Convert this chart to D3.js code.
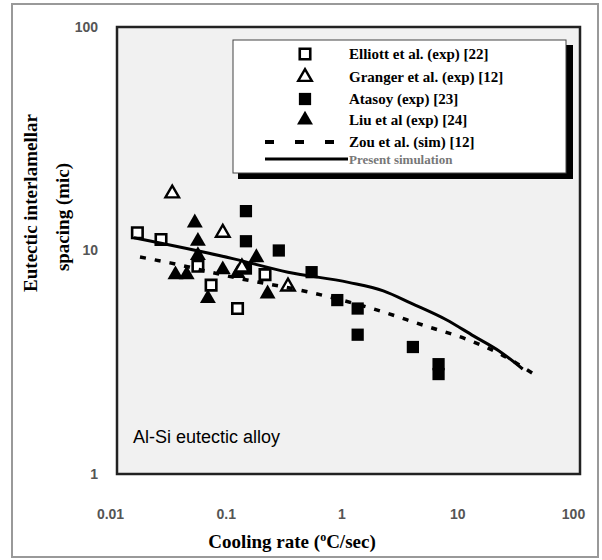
<!DOCTYPE html>
<html>
<head>
<meta charset="utf-8">
<script src="https://cdn.jsdelivr.net/npm/d3@7"></script>
<style>
  body { margin: 0; background: #fff; }
  svg { display: block; }
</style>
</head>
<body>
<svg id="chart" width="602" height="560"></svg>
<script>
// # DATA
// # ------------------------------
var elliott = [[0.015, 12], [0.024, 11.2], [0.05, 8.5], [0.065, 7.0], [0.11, 5.5], [0.19, 7.8]];
var granger = [[0.03, 18], [0.082, 12], [0.3, 6.9], [0.12, 8.4]];
var atasoy  = [[0.13, 15], [0.13, 11], [0.25, 10], [0.13, 8.3], [0.48, 8.0], [0.8, 6.0],
               [1.2, 5.5], [1.2, 4.2], [3.6, 3.7], [6, 3.1], [6, 2.8]];
var liu     = [[0.047, 13.3], [0.05, 11], [0.05, 9.5], [0.032, 7.8], [0.04, 7.8], [0.061, 6.1],
               [0.082, 8.2], [0.11, 7.9], [0.16, 9.3], [0.2, 6.4]];
var zouSim  = [[0.0158, 9.35], [0.0287, 8.8], [0.1, 7.6], [0.465, 6.5], [1.6, 5.5],
               [4.6, 4.6], [10.6, 4.0], [19.2, 3.5], [40, 2.8]];
var present = [[0.014, 11.4], [0.1, 9.2], [0.3, 8.0], [1, 7.2], [2, 6.6], [3.5, 5.8],
               [7, 4.9], [12, 4.15], [20, 3.55], [32, 2.95]];

var xTicks = [0.01, 0.1, 1, 10, 100];
var yTicks = [1, 10, 100];
var legendLabels = ["Elliott et al. (exp) [22]", "Granger et al. (exp) [12]", "Atasoy (exp) [23]",
                    "Liu et al (exp) [24]", "Zou et al. (sim) [12]", "Present simulation"];

// # SETUP
// # ------------------------------
var svg = d3.select("#chart");
var plotLeft = 117, plotRight = 580, plotTop = 27, plotBottom = 474;

var x = d3.scaleLog().domain([0.01, 100]).range([plotLeft, plotRight]);
var y = d3.scaleLog().domain([1, 100]).range([plotBottom, plotTop]);

var serif = "'Liberation Serif', 'Times New Roman', serif";
var sans  = "'Liberation Sans', Arial, sans-serif";

// outer border
svg.append("rect")
  .attr("x", 12).attr("y", 4).attr("width", 586).attr("height", 553)
  .attr("fill", "none").attr("stroke", "#999").attr("stroke-width", 2);

// plot background
svg.append("rect")
  .attr("x", plotLeft).attr("y", plotTop).attr("width", plotRight - plotLeft).attr("height", plotBottom - plotTop)
  .attr("fill", "#f1f1f1");

// ## axes
// # ------------------------------
var xAxis = svg.append("g")
  .attr("transform", "translate(-7," + (plotBottom + 32) + ")")
  .call(d3.axisBottom(x).tickValues(xTicks).tickSize(0).tickFormat(function(d) { return String(d); }));
xAxis.select(".domain").remove();
xAxis.selectAll("text")
  .attr("fill", "#555").style("font-family", sans).style("font-size", "14px").style("font-weight", "bold");

var yAxis = svg.append("g")
  .attr("transform", "translate(" + (plotLeft - 16) + ",0)")
  .call(d3.axisLeft(y).tickValues(yTicks).tickSize(0).tickFormat(function(d) { return String(d); }));
yAxis.select(".domain").remove();
yAxis.selectAll("text")
  .attr("fill", "#555").style("font-family", sans).style("font-size", "14px").style("font-weight", "bold");

// frame
svg.append("rect")
  .attr("x", plotLeft).attr("y", plotTop).attr("width", plotRight - plotLeft).attr("height", plotBottom - plotTop)
  .attr("fill", "none").attr("stroke", "#222").attr("stroke-width", 2.5);

// ## markers
// # ------------------------------
var sq = d3.symbol().type(d3.symbolSquare).size(150);
var sqOpen = d3.symbol().type(d3.symbolSquare).size(110);
var tri = d3.symbol().type(d3.symbolTriangle).size(110);
var triOpen = d3.symbol().type(d3.symbolTriangle).size(80);

var draw_points = function(data, path, fill, stroke, sw) {
  svg.append("g").selectAll("path")
    .data(data).enter().append("path")
    .attr("d", path)
    .attr("transform", function(d) { return "translate(" + x(d[0]) + "," + y(d[1]) + ")"; })
    .attr("fill", fill).attr("stroke", stroke).attr("stroke-width", sw);
};

draw_points(liu, tri, "#000", "none", 0);
draw_points(atasoy, sq, "#000", "none", 0);
draw_points(elliott, sqOpen, "#fff", "#000", 2.6);
draw_points(granger, triOpen, "#fff", "#000", 2.4);

// ## lines
// # ------------------------------
var line = d3.line()
  .x(function(d) { return x(d[0]); })
  .y(function(d) { return y(d[1]); })
  .curve(d3.curveMonotoneX);

svg.append("path").datum(zouSim)
  .attr("d", line).attr("fill", "none").attr("stroke", "#000")
  .attr("stroke-width", 3.5).attr("stroke-dasharray", "6,9");

svg.append("path").datum(present)
  .attr("d", line).attr("fill", "none").attr("stroke", "#000").attr("stroke-width", 3);

// ## legend
// # ------------------------------
var lg = svg.append("g");
lg.append("rect").attr("x", 238).attr("y", 45).attr("width", 335).attr("height", 134).attr("fill", "#000");
lg.append("rect").attr("x", 233).attr("y", 40).attr("width", 333).attr("height", 133)
  .attr("fill", "#fff").attr("stroke", "#444").attr("stroke-width", 1);

var rowY = [54, 77, 99, 120, 142, 159];
var legendMarks = [[sqOpen, "#fff", "#000", 2.6], [triOpen, "#fff", "#000", 2.4],
                   [sq, "#000", "none", 0], [tri, "#000", "none", 0]];

legendMarks.forEach(function(m, i) {
  lg.append("path").attr("d", m[0])
    .attr("transform", "translate(305," + rowY[i] + ")")
    .attr("fill", m[1]).attr("stroke", m[2]).attr("stroke-width", m[3]);
});

lg.append("line").attr("x1", 265).attr("x2", 335).attr("y1", rowY[4]).attr("y2", rowY[4])
  .attr("stroke", "#000").attr("stroke-width", 4).attr("stroke-dasharray", "9,21");
lg.append("line").attr("x1", 265).attr("x2", 348).attr("y1", rowY[5]).attr("y2", rowY[5])
  .attr("stroke", "#000").attr("stroke-width", 3);

lg.selectAll("text.lab").data(legendLabels).enter().append("text")
  .attr("class", "lab")
  .attr("x", 349).attr("y", function(d, i) { return rowY[i] + 5; })
  .attr("fill", function(d, i) { return i == 5 ? "#777" : "#000"; })
  .style("font-family", serif).style("font-weight", "bold")
  .style("font-size", function(d, i) { return i == 5 ? "13px" : "15px"; })
  .text(function(d) { return d; });

// ## annotations and titles
// # ------------------------------
svg.append("text")
  .attr("x", 133).attr("y", 443)
  .style("font-family", sans).style("font-size", "18px").attr("fill", "#000")
  .text("Al-Si eutectic alloy");

var xt = svg.append("text")
  .attr("x", 292).attr("y", 548).attr("text-anchor", "middle")
  .style("font-family", serif).style("font-weight", "bold").style("font-size", "19px");
xt.append("tspan").text("Cooling rate (");
xt.append("tspan").attr("dy", -7).style("font-size", "12px").text("o");
xt.append("tspan").attr("dy", 7).text("C/sec)");

svg.append("text")
  .attr("transform", "translate(37,203) rotate(-90)").attr("text-anchor", "middle")
  .attr("fill", "#000")
  .style("font-family", serif).style("font-weight", "bold").style("font-size", "19px")
  .text("Eutectic interlamellar");
svg.append("text")
  .attr("transform", "translate(69,217) rotate(-90)").attr("text-anchor", "middle")
  .attr("fill", "#000")
  .style("font-family", serif).style("font-weight", "bold").style("font-size", "19px")
  .text("spacing (mic)");
</script>
</body>
</html>
